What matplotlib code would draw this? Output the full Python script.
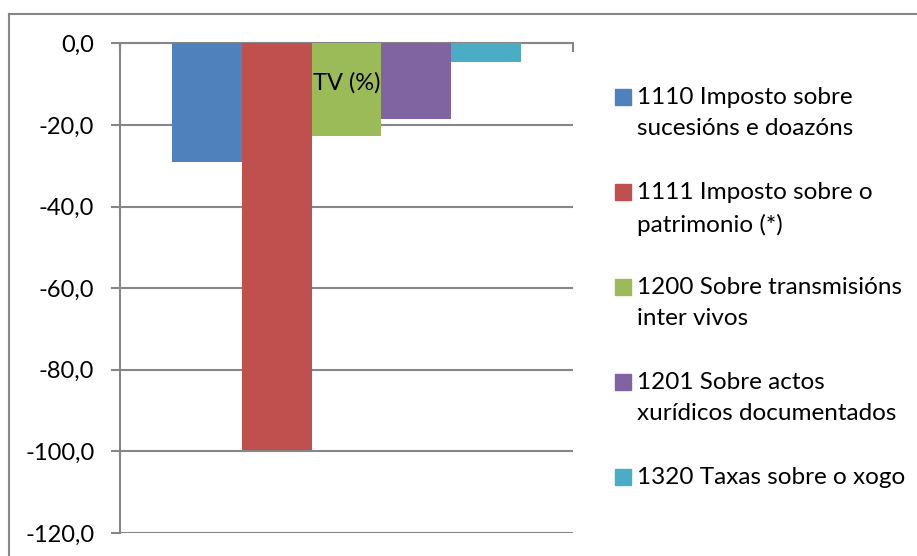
import matplotlib.pyplot as plt
from matplotlib.patches import Rectangle
from matplotlib.lines import Line2D

# Datos
series = ["1110 Imposto sobre\nsucesións e doazóns",
          "1111 Imposto sobre o\npatrimonio (*)",
          "1200 Sobre transmisións\ninter vivos",
          "1201 Sobre actos\nxurídicos documentados",
          "1320 Taxas sobre o xogo"]
tv = [-29.0, -99.6, -22.6, -18.6, -4.5]
colores = ["#4F81BD", "#C0504D", "#9BBB59", "#8064A2", "#4BACC6"]
yticks = [0, -20, -40, -60, -80, -100, -120]

plt.rcParams['font.family'] = ['Lato', 'DejaVu Sans']
gris = "#868686"

fig = plt.figure(figsize=(9.17, 5.56), dpi=100)
W, H = 917, 556
ax = fig.add_axes([120 / W, (H - 533) / H, (573 - 120) / W, (533 - 43.3) / H])

# barras agrupadas (estilo Excel, gap 150%)
n = len(tv)
ancho = 1 / (n + 1.5)
for i, (v, c) in enumerate(zip(tv, colores)):
    ax.bar((i - (n - 1) / 2) * ancho, v, ancho, color=c, label=series[i], zorder=3)

ax.set_xlim(-0.5, 0.5)
ax.set_ylim(-120, 0)
ax.set_yticks(yticks)
ax.set_yticklabels([f"{t:.1f}".replace(".", ",") for t in yticks], fontsize=17)
ax.yaxis.grid(True, color=gris, linewidth=1.5, zorder=0)
ax.tick_params(axis='y', color=gris, width=1.5, length=6.5, pad=12)

ax.xaxis.tick_top()
ax.set_xticks([-0.5, 0.5])
ax.set_xticklabels([])
ax.tick_params(axis='x', direction='in', color=gris, width=1.5, length=6.5)

for s in ['right', 'bottom']:
    ax.spines[s].set_visible(False)
ax.spines['top'].set_color(gris)
ax.spines['top'].set_linewidth(1.5)
ax.spines['left'].set_color(gris)
ax.spines['left'].set_linewidth(1.5)

# titulo dentro del grafico
ax.text(0.5, 0.92, "TV (%)", transform=ax.transAxes, ha='center', va='center',
        fontsize=17, zorder=4)

# leyenda
for i, (lab, c) in enumerate(zip(series, colores)):
    yc = 97 + i * 95
    fig.patches.append(Rectangle((615 / W, (H - yc - 8) / H), 16 / W, 16 / H,
                                 transform=fig.transFigure, color=c))
    fig.text(637 / W, (H - yc + 10) / H, lab, ha='left', va='top',
             fontsize=17.5, linespacing=1.6)

# borde del area del grafico
fig.lines.append(Line2D([9 / W, 1], [(H - 14) / H] * 2, transform=fig.transFigure,
                        color=gris, linewidth=1.5))
fig.lines.append(Line2D([9 / W] * 2, [0, (H - 14) / H], transform=fig.transFigure,
                        color=gris, linewidth=1.5))

fig.savefig("out.png", dpi=100)
